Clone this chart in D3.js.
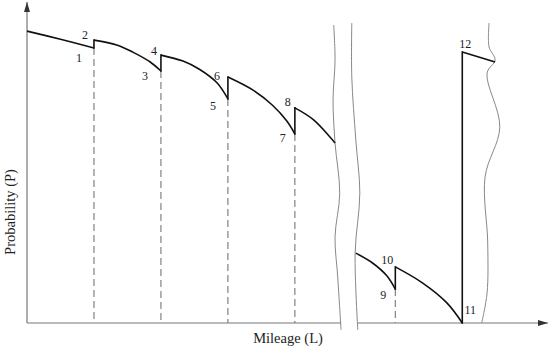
<!DOCTYPE html>
<meta charset="utf-8">
<style>
  body { margin: 0; background: #fff; }
  text { font-family: "Liberation Serif", "DejaVu Serif", serif; fill: #222; }
</style>
<script src="https://d3js.org/d3.v7.min.js"></script>
<body>
<div id="chart"></div>
</body>
<script>
// Probability curve segments, [mileage L, probability P]
var seg1 = [[0, 0.973], [0.5, 0.946], [1, 0.917]];
var seg2 = [[1, 0.943], [1.34, 0.927], [1.58, 0.903], [1.84, 0.87], [2, 0.84]];
var seg3 = [[2, 0.893], [2.33, 0.873], [2.58, 0.845], [2.84, 0.8], [3, 0.747]];
var seg4 = [[3, 0.82], [3.37, 0.777], [3.67, 0.725], [3.88, 0.673], [4, 0.63]];
var seg5 = [[4, 0.717], [4.28, 0.677], [4.6, 0.6]];
var seg6 = [[4.91, 0.233], [5.16, 0.2], [5.37, 0.158], [5.5, 0.113]];
var seg7 = [[5.5, 0.187], [5.91, 0.133], [6.27, 0.067], [6.5, 0]];
var seg8 = [[6.5, 0.903], [6.99, 0.87]];
var segments = [seg1, seg2, seg3, seg4, seg5, seg6, seg7, seg8];

// maintenance points (vertical jumps): [L, P before, P after]
var jumps = [[1, 0.917, 0.943], [2, 0.84, 0.893], [3, 0.747, 0.82],
             [4, 0.63, 0.717], [5.5, 0.113, 0.187], [6.5, 0, 0.903]];

// dashed guide lines (mileage of maintenance, height of lower point)
var guides = [[1, 0.917], [2, 0.84], [3, 0.747], [4, 0.63], [5.5, 0.113]];

// point labels: name, L, P
var labels = [["1", 1, 0.917], ["2", 1, 0.943], ["3", 2, 0.84], ["4", 2, 0.893],
              ["5", 3, 0.747], ["6", 3, 0.82], ["7", 4, 0.63], ["8", 4, 0.717],
              ["9", 5.5, 0.113], ["10", 5.5, 0.187], ["11", 6.5, 0], ["12", 6.5, 0.903]];

// wavy break lines
var breakA = [[4.58, 0.993], [4.6, 0.877], [4.57, 0.743], [4.6, 0.6], [4.67, 0.433],
              [4.6, 0.287], [4.64, 0.153], [4.69, -0.023]];
var breakB = [[4.85, 1.0], [4.85, 0.82], [4.91, 0.61], [4.97, 0.433], [4.9, 0.233],
              [4.94, -0.023]];
var breakC = [[6.9, 1.0], [6.9, 0.92], [6.99, 0.877], [6.87, 0.833], [7.06, 0.653],
              [6.84, 0.487], [6.88, 0.267], [6.87, 0.1], [6.79, 0]];

// x axis pieces on either side of the break
var axisPieces = [[0, 4.69], [4.94, 7.78]];

var width = 550, height = 353;

var svg = d3.select("#chart").append("svg")
    .attr("width", width)
    .attr("height", height);

var x = d3.scaleLinear().domain([0, 7.78]).range([27, 548]);
var y = d3.scaleLinear().domain([0, 1]).range([323, 23]);

// arrow marker
var defs = svg.append("defs");
defs.append("marker")
    .attr("id", "arrow")
    .attr("viewBox", "0 0 10 6")
    .attr("refX", 10).attr("refY", 3)
    .attr("markerWidth", 10).attr("markerHeight", 6)
    .attr("markerUnits", "userSpaceOnUse")
    .attr("orient", "auto")
  .append("path")
    .attr("d", "M0,0 L10,3 L0,6 Z")
    .attr("fill", "#333");

var axisColor = "#777";

// y axis
svg.append("line")
    .attr("x1", x(0)).attr("y1", y(0))
    .attr("x2", x(0)).attr("y2", 2)
    .attr("stroke", axisColor).attr("stroke-width", 1.2)
    .attr("marker-end", "url(#arrow)");

// x axis (broken)
axisPieces.forEach(function(p, i) {
  svg.append("line")
      .attr("x1", x(p[0])).attr("y1", y(0))
      .attr("x2", x(p[1])).attr("y2", y(0))
      .attr("stroke", axisColor).attr("stroke-width", 1.2)
      .attr("marker-end", i === axisPieces.length - 1 ? "url(#arrow)" : null);
});

// dashed guides
svg.selectAll(".guide")
  .data(guides)
  .enter().append("line")
    .attr("class", "guide")
    .attr("x1", function(d) { return x(d[0]); })
    .attr("x2", function(d) { return x(d[0]); })
    .attr("y1", function(d) { return y(d[1]); })
    .attr("y2", y(0))
    .attr("stroke", "#777")
    .attr("stroke-width", 1.1)
    .attr("stroke-dasharray", "7,4");

// break lines
var wavy = d3.line()
    .x(function(d) { return x(d[0]); })
    .y(function(d) { return y(d[1]); })
    .curve(d3.curveCatmullRom.alpha(0.5));

svg.selectAll(".brk")
  .data([breakA, breakB, breakC])
  .enter().append("path")
    .attr("class", "brk")
    .attr("d", wavy)
    .attr("fill", "none")
    .attr("stroke", "#888")
    .attr("stroke-width", 1);

// curves
var curve = d3.line()
    .x(function(d) { return x(d[0]); })
    .y(function(d) { return y(d[1]); })
    .curve(d3.curveCatmullRom.alpha(0.5));

svg.selectAll(".seg")
  .data(segments)
  .enter().append("path")
    .attr("class", "seg")
    .attr("d", curve)
    .attr("fill", "none")
    .attr("stroke", "#111")
    .attr("stroke-width", 1.6);

// vertical jumps
svg.selectAll(".jump")
  .data(jumps)
  .enter().append("line")
    .attr("class", "jump")
    .attr("x1", function(d) { return x(d[0]); })
    .attr("x2", function(d) { return x(d[0]); })
    .attr("y1", function(d) { return y(d[1]); })
    .attr("y2", function(d) { return y(d[2]); })
    .attr("stroke", "#111")
    .attr("stroke-width", 1.6)
    .attr("stroke-linecap", "square");

// point labels, offsets from their point
var offsets = {
  "1": [-15, 11], "2": [-9, -4], "3": [-16, 6], "4": [-7, -3],
  "5": [-15, 8], "6": [-11, 0], "7": [-12, 5], "8": [-7, -5],
  "9": [-12, 7], "10": [-8, -6], "11": [8, -12], "12": [3, -7]
};

svg.selectAll(".lbl")
  .data(labels)
  .enter().append("text")
    .attr("class", "lbl")
    .attr("x", function(d) { return x(d[1]) + offsets[d[0]][0]; })
    .attr("y", function(d) { return y(d[2]) + offsets[d[0]][1]; })
    .attr("text-anchor", "middle")
    .attr("dominant-baseline", "middle")
    .style("font-size", "12px")
    .text(function(d) { return d[0]; });

// axis titles
svg.append("text")
    .attr("x", 288).attr("y", 343)
    .attr("text-anchor", "middle")
    .style("font-size", "14.5px")
    .text("Mileage (L)");

svg.append("text")
    .attr("transform", "translate(15,212) rotate(-90)")
    .attr("text-anchor", "middle")
    .style("font-size", "14.5px")
    .text("Probability (P)");
</script>
</html>
